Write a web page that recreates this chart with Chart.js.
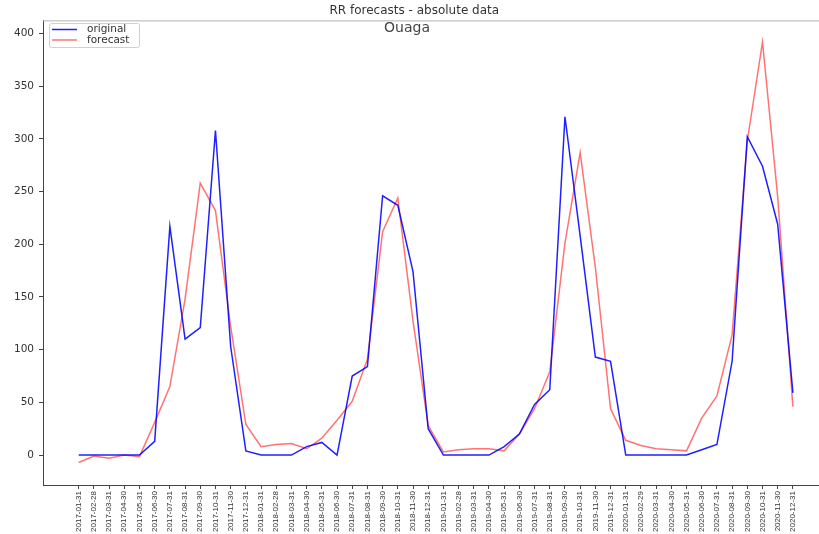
<!DOCTYPE html>
<html>
<head>
<meta charset="utf-8">
<script src="https://cdn.jsdelivr.net/npm/chart.js@4/dist/chart.umd.min.js"></script>
<style>
html,body{margin:0;padding:0;background:#fff;overflow:hidden;width:819px;height:534px;}
#c{position:absolute;left:0;top:0;}
</style>
</head>
<body>
<canvas id="c" width="872" height="534"></canvas>
<script>
const categories = [
 "2017-01-31","2017-02-28","2017-03-31","2017-04-30","2017-05-31","2017-06-30","2017-07-31","2017-08-31","2017-09-30","2017-10-31","2017-11-30","2017-12-31",
 "2018-01-31","2018-02-28","2018-03-31","2018-04-30","2018-05-31","2018-06-30","2018-07-31","2018-08-31","2018-09-30","2018-10-31","2018-11-30","2018-12-31",
 "2019-01-31","2019-02-28","2019-03-31","2019-04-30","2019-05-31","2019-06-30","2019-07-31","2019-08-31","2019-09-30","2019-10-31","2019-11-30","2019-12-31",
 "2020-01-31","2020-02-29","2020-03-31","2020-04-30","2020-05-31","2020-06-30","2020-07-31","2020-08-31","2020-09-30","2020-10-31","2020-11-30","2020-12-31"
];
const original = [0,0,0,0,0,13,217,110,121,308,103,4,
                  0,0,0,8,12,0,75,84,246,237,174,25,
                  0,0,0,0,8,20,48,62,321,208,93,89,
                  0,0,0,0,0,5,10,89,302,274,219,59];
const forecast = [-7,-1,-3,0,-1.5,31,65,148,258,232,122,29,
                  8,10,11,6,16,33,51,91,212,244,127,28,
                  3,5,6,6,4,20,44,79,201,287,178,44,
                  14,9,6,5,4,35,56,114,298,392,245,46];
const yTicks = [0,50,100,150,200,250,300,350,400];
const titleText = "RR forecasts - absolute data";
const subtitleText = "Ouaga";

const toXY = arr => arr.map((v,i)=>({x:i,y:v}));

const overlay = {
  id:'overlay',
  afterDraw(chart){
    const ctx = chart.ctx, a = chart.chartArea;
    ctx.save();
    ctx.strokeStyle = '#b4b4b4'; ctx.lineWidth = 1;
    ctx.beginPath(); ctx.moveTo(a.left, a.top+0.5); ctx.lineTo(a.right, a.top+0.5); ctx.stroke();
    ctx.fillStyle = '#444';
    ctx.font = '14px "DejaVu Sans"';
    ctx.textAlign = 'center'; ctx.textBaseline = 'middle';
    ctx.fillText(subtitleText, 407, 28);
    const lx = 49, ly = 23, lw = 90, lh = 24;
    ctx.fillStyle = 'rgba(255,255,255,0.9)';
    ctx.strokeStyle = '#d0d0d0';
    ctx.beginPath();
    if (ctx.roundRect) ctx.roundRect(lx+0.5, ly+0.5, lw, lh, 2); else ctx.rect(lx+0.5, ly+0.5, lw, lh);
    ctx.fill(); ctx.stroke();
    chart.data.datasets.forEach((ds,i)=>{
      const y = ly + 6.5 + i*10.5;
      ctx.strokeStyle = ds.borderColor; ctx.lineWidth = 1.5;
      ctx.beginPath(); ctx.moveTo(lx+3, y); ctx.lineTo(lx+28, y); ctx.stroke();
      ctx.fillStyle = '#333'; ctx.font = '10.5px "DejaVu Sans"';
      ctx.textAlign = 'left'; ctx.textBaseline = 'middle';
      ctx.fillText(ds.label, lx+38, y);
    });
    ctx.restore();
  }
};

new Chart(document.getElementById('c'), {
  type:'line',
  data:{
    datasets:[
      {label:'original', data:toXY(original), borderColor:'rgba(0,0,255,0.88)', borderWidth:1.5, pointRadius:0, tension:0, fill:false},
      {label:'forecast', data:toXY(forecast), borderColor:'rgba(255,0,0,0.55)', borderWidth:1.5, pointRadius:0, tension:0, fill:false}
    ]
  },
  options:{
    responsive:false, animation:false, devicePixelRatio:1,
    layout:{padding:{left:0,right:43.4,top:0,bottom:0}},
    plugins:{
      legend:{display:false},
      tooltip:{enabled:false},
      title:{display:true, text:titleText, color:'#333', font:{family:'DejaVu Sans', size:12, weight:'normal', lineHeight:1.2}, padding:{top:4,bottom:2}}
    },
    scales:{
      x:{
        type:'linear', min:-2.35, max:49.35,
        afterBuildTicks(s){ s.ticks = categories.map((_,i)=>({value:i})); },
        afterFit(s){ s.height = 49; },
        grid:{drawOnChartArea:false, drawTicks:true, tickLength:4, color:'#444'},
        border:{display:true, color:'#444'},
        ticks:{autoSkip:false, minRotation:90, maxRotation:90, padding:2, color:'#333',
               font:{family:'"Liberation Sans", Arial, sans-serif', size:8},
               callback:(v)=>categories[v]}
      },
      y:{
        type:'linear', min:-28.4, max:412.4,
        afterBuildTicks(s){ s.ticks = yTicks.map(v=>({value:v})); },
        afterFit(s){ s.width = 43; },
        grid:{drawOnChartArea:false, drawTicks:true, tickLength:4, color:'#444'},
        border:{display:true, color:'#444'},
        ticks:{padding:5, color:'#333', font:{family:'DejaVu Sans', size:10.5}}
      }
    }
  },
  plugins:[overlay]
});
</script>
</body>
</html>
